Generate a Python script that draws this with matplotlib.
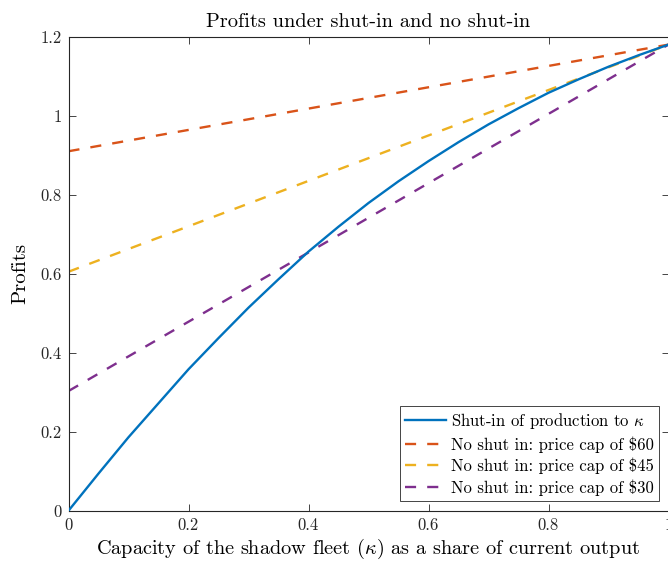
import matplotlib
matplotlib.use("Agg")
import matplotlib.pyplot as plt
import numpy as np

plt.rcParams['font.family'] = ['cmr10', 'DejaVu Serif']
plt.rcParams['mathtext.fontset'] = 'cm'
plt.rcParams['axes.unicode_minus'] = False

# Data
kappa = [0.0, 0.05, 0.1, 0.15, 0.2, 0.25, 0.3, 0.35, 0.4, 0.45, 0.5,
         0.55, 0.6, 0.65, 0.7, 0.75, 0.8, 0.85, 0.9, 0.95, 1.0]
shut_in = [0.0, 0.094, 0.186, 0.272, 0.358, 0.437, 0.514, 0.586, 0.656, 0.719, 0.779,
           0.834, 0.885, 0.933, 0.978, 1.019, 1.058, 1.092, 1.124, 1.153, 1.18]
kappa_lin = [0.0, 1.0]
cap60 = [0.91, 1.18]
cap45 = [0.605, 1.18]
cap30 = [0.303, 1.18]

labels = [r'Shut-in of production to $\kappa$',
          'No shut in: price cap of $60',
          'No shut in: price cap of $45',
          'No shut in: price cap of $30']
colors = ['#0072BD', '#D95319', '#EDB120', '#7E2F8E']

fig = plt.figure(figsize=(6.68, 5.63), dpi=100)
ax = fig.add_axes([68.5/668, 52.3/563, 600/668, 474/563])

lw = 1.7
dash = (4.7, 4.7)
ax.plot(kappa, shut_in, color=colors[0], lw=lw, label=labels[0], zorder=3)
ax.plot(kappa_lin, cap60, color=colors[1], lw=lw, dashes=dash, label=labels[1])
ax.plot(kappa_lin, cap45, color=colors[2], lw=lw, dashes=dash, label=labels[2])
ax.plot(kappa_lin, cap30, color=colors[3], lw=lw, dashes=dash, label=labels[3])

ax.set_xlim(0, 1)
ax.set_ylim(0, 1.2)
ax.set_xticks([0, 0.2, 0.4, 0.6, 0.8, 1])
ax.set_xticklabels(['0', '0.2', '0.4', '0.6', '0.8', '1'])
ax.set_yticks([0, 0.2, 0.4, 0.6, 0.8, 1, 1.2])
ax.set_yticklabels(['0', '0.2', '0.4', '0.6', '0.8', '1', '1.2'])

spine_col = '#262626'
for s in ax.spines.values():
    s.set_color(spine_col)
    s.set_linewidth(0.8)
ax.tick_params(direction='in', length=5, width=0.6, colors=spine_col,
               labelsize=12, top=True, right=True, pad=5)

ax.set_title('Profits under shut-in and no shut-in', fontsize=14.7, pad=7)
ax.set_xlabel(r'Capacity of the shadow fleet ($\kappa$) as a share of current output',
              fontsize=14.6, labelpad=3)
ax.set_ylabel('Profits', fontsize=15, labelpad=8)

leg = ax.legend(loc='lower right', fontsize=12, frameon=True, fancybox=False,
                edgecolor='#262626', framealpha=1, handlelength=2.5,
                borderaxespad=0.6, borderpad=0.3, labelspacing=0.3,
                handletextpad=0.25)
leg.get_frame().set_linewidth(0.6)

fig.savefig('out.png', dpi=100)
